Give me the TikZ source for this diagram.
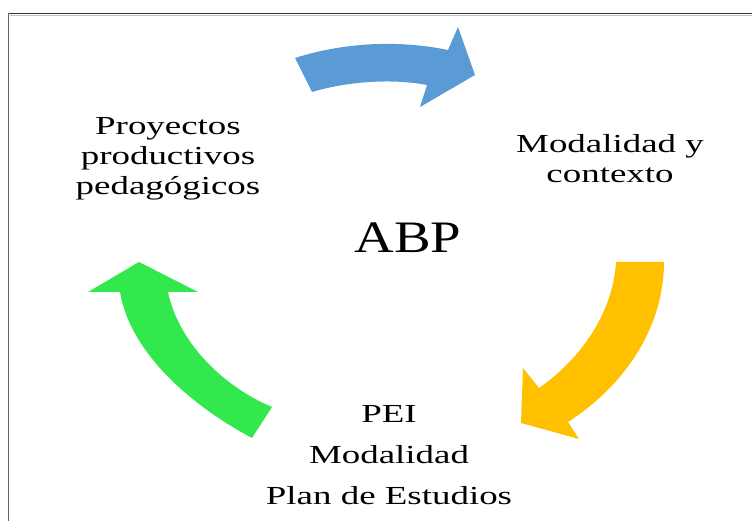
\documentclass[tikz,border=0pt]{standalone}
\usepackage{fontspec}
\setmainfont{Liberation Serif}
\definecolor{arrblue}{HTML}{5B9BD5}
\definecolor{arryellow}{HTML}{FFC000}
\definecolor{arrgreen}{HTML}{33E84C}
\newcommand{\lbltext}[2][30]{\scalebox{1.42}[1]{\fontsize{26}{#1}\selectfont\begin{tabular}[t]{@{}c@{}}#2\end{tabular}}}
\begin{document}
\begin{tikzpicture}[x=1pt,y=-1pt,
  lbl/.style={inner sep=0pt,anchor=base},
  bigarrow/.style={draw=none}]
\useasboundingbox (0,0) rectangle (752,521);
% frame
\draw[line width=1.5pt,color=black!80] (8.5,13.5) -- (752,13.5);
\draw[line width=0.8pt,color=black!25] (9.5,15) -- (752,15);
\draw[line width=1.5pt,color=black!60] (8.5,13.5) -- (8.5,521);
% blue arrow
\fill[arrblue,bigarrow] (295,58) .. controls (345,42) and (400,40) .. (448,50)
  -- (458,27) -- (475,75) -- (420,107) -- (427,85)
  .. controls (390,78) and (345,82) .. (312,92) -- cycle;
% yellow arrow
\fill[arryellow,bigarrow] (616,262) -- (664,262)
  .. controls (664,322) and (630,382) .. (568,422)
  -- (579,439) -- (521,423) -- (523,368) -- (539,388)
  .. controls (582,358) and (613,312) .. (616,262) -- cycle;
% green arrow
\fill[arrgreen,bigarrow] (272,407) -- (252,438)
  .. controls (190,405) and (130,352) .. (120,292)
  -- (88,292) -- (139,262) -- (198,292) -- (168,292)
  .. controls (178,340) and (220,385) .. (272,407) -- cycle;
% texts
\node[lbl] (proy) at (168,135) {\lbltext{Proyectos\\productivos\\pedagógicos}};
\node[lbl] (moda) at (610,153) {\lbltext{Modalidad y\\contexto}};
\node[lbl] (abp) at (408,253) {\scalebox{1.22}[1]{\fontsize{45}{50}\selectfont ABP}};
\node[lbl] (pei) at (389,422) {\lbltext[41]{PEI\\Modalidad\\Plan de Estudios}};
\end{tikzpicture}
\end{document}
